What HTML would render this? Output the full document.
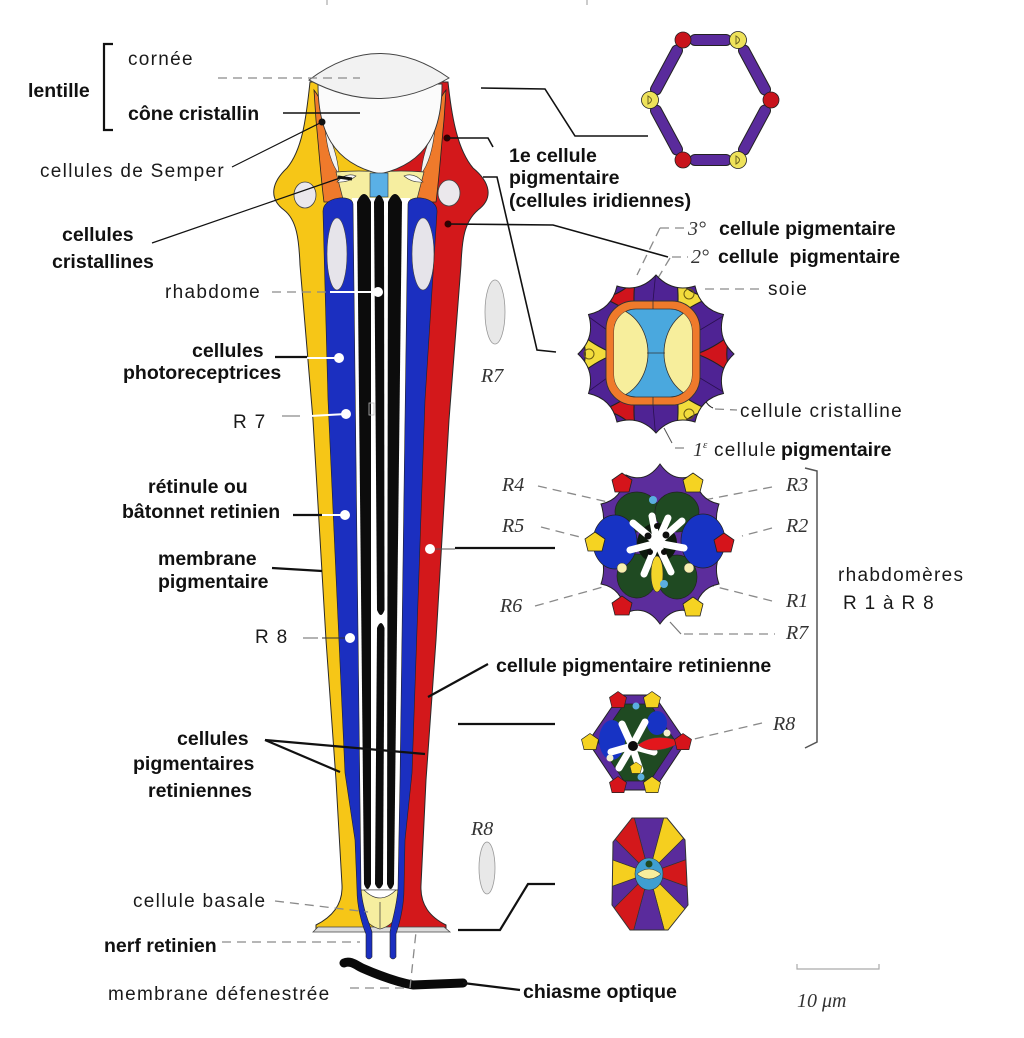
<!DOCTYPE html>
<html><head><meta charset="utf-8">
<style>
html,body{margin:0;padding:0;background:#fff;}
svg{display:block;}
.r{font-family:"Liberation Sans",Arial,sans-serif;font-size:19px;letter-spacing:1.3px;fill:#1a1a1a;}
.b{font-family:"Liberation Sans",Arial,sans-serif;font-size:19.5px;font-weight:bold;fill:#111;}
.i{font-family:"Liberation Serif","Times New Roman",serif;font-size:20px;font-style:italic;fill:#333;}
.d{stroke:#8a8a8a;stroke-width:1.3;stroke-dasharray:9 6;fill:none;}
.k{stroke:#111;stroke-width:1.6;fill:none;}
.kk{stroke:#111;stroke-width:2.2;fill:none;}
.w{stroke:#fff;stroke-width:2;fill:none;}
.ol{stroke:#222;stroke-width:0.8;}
</style></head><body>
<svg width="1024" height="1038" viewBox="0 0 1024 1038" xmlns="http://www.w3.org/2000/svg">
<defs>
<path id="tri" d="M0,-16 Q4,-4 14,9 Q0,4 -14,9 Q-4,-4 0,-16 Z"/>
<path id="pent" d="M0,-10 L10,-3 L7,9 L-7,9 L-10,-3 Z"/>
<path id="star2" d="M656,275 Q672.2,293 695,286 Q700.1,309.3 723.5,314.5 Q716.3,337.6 734,354 Q716.3,370.4 723.5,393.5 Q700.1,398.7 695,422 Q672.2,415 656,433 Q639.8,415 617,422 Q611.9,398.7 588.5,393.5 Q595.7,370.4 578,354 Q595.7,337.6 588.5,314.5 Q611.9,309.3 617,286 Q639.8,293 656,275 Z"/>
<clipPath id="star2clip"><use href="#star2"/></clipPath>
<clipPath id="cs2in"><rect x="614" y="309" width="78" height="88" rx="22"/></clipPath>
<clipPath id="cs5clip"><polygon points="632,818 667,818 685,840 688,905 668,930 630,930 612,905 613,842"/></clipPath>
</defs>
<rect width="1024" height="1038" fill="#fff"/>

<line x1="327" y1="0" x2="327" y2="5" stroke="#999" stroke-width="1"/>
<line x1="587" y1="0" x2="587" y2="5" stroke="#999" stroke-width="1"/>

<!-- ============ MAIN OMMATIDIUM ============ -->
<path d="M310,82 C306,120 302,150 287,168 C272,182 268,198 284,210 C297,220 299,240 300,265 L313,420 L326,640 L336,780 L342,885 C343,905 332,917 316,925 L316,930 L382,930 L382,82 Z" fill="#f6c617" stroke="#2a2a2a" stroke-width="1"/>
<path d="M448,82 C452,120 458,150 473,168 C490,182 494,198 478,210 C464,222 462,240 461,265 L449,420 L436,640 L426,780 L421,885 C420,905 430,917 446,925 L446,930 L380,930 L380,82 Z" fill="#d3181b" stroke="#2a2a2a" stroke-width="1"/>
<path d="M313,932 L318,927 L444,927 L450,932 Z" fill="#dcdcdc" stroke="#444" stroke-width="0.8"/>
<path d="M314,90 C322,100 327,115 329,140 C333,165 342,182 353,194 L350,202 L324,202 C321,180 319,150 316,120 Z" fill="#ef7a2b" class="ol"/>
<path d="M446,90 C438,100 433,115 431,140 C427,165 418,182 407,194 L410,202 L436,202 C439,180 441,150 444,120 Z" fill="#ef7a2b" class="ol"/>
<path d="M325,128 Q337,150 339,174 Q328,160 325,128 Z" fill="#f4f4f4" stroke="#333" stroke-width="0.6"/>
<path d="M435,128 Q423,150 421,174 Q432,160 435,128 Z" fill="#f4f4f4" stroke="#333" stroke-width="0.6"/>
<path d="M336,172 Q360,170 380,172 Q400,170 424,172 L416,203 L344,203 Z" fill="#f6eea0" stroke="#333" stroke-width="0.7"/>
<path d="M337,182 Q346,172 356,176 Q348,183 337,182 Z" fill="#fafafa" stroke="#333" stroke-width="0.6"/>
<path d="M423,182 Q414,172 404,176 Q412,183 423,182 Z" fill="#fafafa" stroke="#333" stroke-width="0.6"/>
<path d="M318,84 L442,84 C442,130 428,163 380,174 C332,163 318,130 318,84 Z" fill="#fbfbfb" stroke="#333" stroke-width="0.9"/>
<rect x="370" y="173" width="18" height="24" fill="#5ab0e6" stroke="#333" stroke-width="0.6"/>
<path d="M309,80 Q378,28 449,78 Q380,118 309,80 Z" fill="#f2f2f2" stroke="#444" stroke-width="1"/>

<path d="M352,198 L410,198 L399,892 L361,892 Z" fill="#fff"/>
<path d="M357,202 Q364,186 371,202 L371,884 Q367.5,894 364,884 Z" fill="#0c0c0c"/>
<path d="M374,202 Q379,188 384,202 L384.5,610 Q381,620 377,610 Z" fill="#0c0c0c"/>
<path d="M377,628 Q381,618 384.5,628 L383,884 Q379,893 375,884 Z" fill="#0c0c0c"/>
<path d="M388,202 Q395,186 402,202 L394,884 Q390.5,894 387,884 Z" fill="#0c0c0c"/>
<path d="M361,890 L399,890 C402,910 396,925 380,929 C364,925 358,910 361,890 Z" fill="#f6eea0" stroke="#333" stroke-width="0.7"/>
<path d="M364,890 Q380,906 396,890 Z" fill="#fff" stroke="#333" stroke-width="0.6"/>
<line x1="380" y1="902" x2="380" y2="928" stroke="#333" stroke-width="0.7"/>
<path d="M323,212 C322,196 353,194 353,204 L361,888 C362,906 368,920 372,932 L372,957 Q369,961 366,957 L366,934 C361,922 357,905 357,890 L355,840 L345,773 L328,400 Z" fill="#1b2fc0" stroke="#222" stroke-width="0.6"/>
<path d="M437,212 C438,196 408,194 408,204 L400,780 L398,888 C397,906 392,920 390,932 L390,957 Q393,961 396,957 L396,934 C400,922 404,905 404,888 L405,840 L412,773 L425,400 Z" fill="#1b2fc0" stroke="#222" stroke-width="0.6"/>
<ellipse cx="305" cy="195" rx="11" ry="13" fill="#ebe8ec" stroke="#444" stroke-width="0.8"/>
<ellipse cx="449" cy="193" rx="11" ry="13" fill="#ebe8ec" stroke="#444" stroke-width="0.8"/>
<ellipse cx="337" cy="254" rx="10" ry="36" fill="#e6e4ea" stroke="#444" stroke-width="0.6"/>
<ellipse cx="423" cy="254" rx="11" ry="36" fill="#e6e4ea" stroke="#444" stroke-width="0.6"/>
<rect x="369" y="403" width="5" height="12" fill="none" stroke="#bbb" stroke-width="0.8"/>

<ellipse cx="495" cy="312" rx="10" ry="32" fill="#e8e8e8" stroke="#999" stroke-width="0.8"/>
<ellipse cx="487" cy="868" rx="8" ry="26" fill="#e8e8e8" stroke="#999" stroke-width="0.8"/>

<path d="M344,963 C350,960 356,965 362,968 C378,975 396,982 413,985 L463,983" stroke="#0a0a0a" stroke-width="9" fill="none" stroke-linecap="round" stroke-linejoin="round"/>
<line x1="463" y1="983" x2="520" y2="990" class="kk"/>

<!-- ============ LEADER LINES LEFT ============ -->
<path d="M113,44 L104,44 L104,130 L113,130" class="kk"/>
<line x1="218" y1="78" x2="360" y2="78" class="d"/>
<line x1="283" y1="113" x2="360" y2="113" class="k"/>
<line x1="232" y1="167" x2="322" y2="122" stroke="#111" stroke-width="1.2"/>
<circle cx="322" cy="122" r="3.5" fill="#111"/>
<line x1="152" y1="243" x2="340" y2="178" stroke="#111" stroke-width="1.2"/>
<line x1="338" y1="177" x2="352" y2="179" stroke="#111" stroke-width="3"/>
<line x1="272" y1="292" x2="330" y2="292" class="d"/>
<line x1="330" y1="292" x2="378" y2="292" class="w"/>
<circle cx="378" cy="292" r="5" fill="#fff"/>
<line x1="275" y1="357" x2="307" y2="357" class="kk"/>
<line x1="307" y1="358" x2="339" y2="358" class="w"/>
<circle cx="339" cy="358" r="5" fill="#fff"/>
<line x1="282" y1="416" x2="300" y2="416" stroke="#8a8a8a" stroke-width="1.3"/>
<line x1="310" y1="416" x2="346" y2="414" class="w"/>
<circle cx="346" cy="414" r="5" fill="#fff"/>
<line x1="293" y1="515" x2="322" y2="515" class="kk"/>
<line x1="322" y1="515" x2="345" y2="515" class="w"/>
<circle cx="345" cy="515" r="5" fill="#fff"/>
<line x1="272" y1="568" x2="322" y2="571" class="kk"/>
<line x1="303" y1="638" x2="318" y2="638" stroke="#8a8a8a" stroke-width="1.3"/>
<line x1="322" y1="638" x2="350" y2="638" stroke="#333" stroke-width="1"/>
<circle cx="350" cy="638" r="5" fill="#fff"/>
<line x1="265" y1="740" x2="340" y2="772" class="kk"/>
<line x1="265" y1="740" x2="425" y2="754" class="kk"/>
<line x1="275" y1="901" x2="368" y2="912" class="d"/>
<line x1="222" y1="942" x2="360" y2="942" class="d"/>
<line x1="350" y1="988" x2="410" y2="988" class="d"/>
<line x1="410" y1="988" x2="416" y2="932" class="d"/>

<!-- ============ LEADER LINES RIGHT ============ -->
<polyline points="481,88 545,89 575,136 648,136" class="k"/>
<circle cx="447" cy="138" r="3.5" fill="#300"/>
<polyline points="447,138 488,138 493,147" class="k"/>
<polyline points="483,177 497,177 537,350 556,352" class="k"/>
<circle cx="448" cy="224" r="3.5" fill="#300"/>
<polyline points="448,224 553,225 668,257" class="k"/>
<line x1="660" y1="228" x2="686" y2="228" class="d"/>
<line x1="660" y1="228" x2="637" y2="275" class="d"/>
<line x1="672" y1="257" x2="688" y2="257" class="d"/>
<line x1="670" y1="258" x2="655" y2="283" class="d"/>
<line x1="705" y1="289" x2="762" y2="289" class="d"/>
<path d="M675,357 L705,400 Q708,406 713,408" stroke="#222" stroke-width="1" fill="none"/>
<line x1="715" y1="409" x2="737" y2="410" class="d"/>
<line x1="664" y1="428" x2="672" y2="443" stroke="#555" stroke-width="1"/>
<line x1="675" y1="448" x2="690" y2="448" class="d"/>
<line x1="538" y1="486" x2="608" y2="502" class="d"/>
<line x1="541" y1="527" x2="580" y2="537" class="d"/>
<line x1="535" y1="606" x2="610" y2="585" class="d"/>
<line x1="772" y1="487" x2="704" y2="500" class="d"/>
<line x1="772" y1="528" x2="742" y2="536" class="d"/>
<line x1="772" y1="601" x2="705" y2="584" class="d"/>
<line x1="670" y1="622" x2="681" y2="634" stroke="#777" stroke-width="1.2"/>
<line x1="684" y1="634" x2="775" y2="634" class="d"/>
<line x1="762" y1="723" x2="690" y2="740" class="d"/>
<line x1="488" y1="664" x2="428" y2="697" class="kk"/>
<line x1="430" y1="549" x2="455" y2="549" stroke="#555" stroke-width="1"/>
<line x1="455" y1="548" x2="555" y2="548" class="kk"/>
<circle cx="430" cy="549" r="5" fill="#fff"/>
<line x1="458" y1="724" x2="555" y2="724" class="kk"/>
<polyline points="458,930 500,930 528,884 555,884" class="kk"/>
<path d="M805,468 L817,471 L817,742 L805,748" stroke="#555" stroke-width="1.5" fill="none"/>
<path d="M797,964 L797,969 L879,969 L879,964" stroke="#aaa" stroke-width="1.2" fill="none"/>

<!-- ============ CS1 hexagon ============ -->
<g stroke-linecap="round">
<g stroke="#222" stroke-width="12">
<line x1="695" y1="40" x2="726" y2="40"/>
<line x1="744" y1="50.5" x2="765" y2="89.5"/>
<line x1="765" y1="110.5" x2="744" y2="149.5"/>
<line x1="726" y1="160" x2="695" y2="160"/>
<line x1="677" y1="149.5" x2="656" y2="110.5"/>
<line x1="656" y1="89.5" x2="677" y2="50.5"/>
</g>
<g stroke="#5a2b9c" stroke-width="10">
<line x1="695" y1="40" x2="726" y2="40"/>
<line x1="744" y1="50.5" x2="765" y2="89.5"/>
<line x1="765" y1="110.5" x2="744" y2="149.5"/>
<line x1="726" y1="160" x2="695" y2="160"/>
<line x1="677" y1="149.5" x2="656" y2="110.5"/>
<line x1="656" y1="89.5" x2="677" y2="50.5"/>
</g>
</g>
<g stroke="#222" stroke-width="0.8">
<circle cx="683" cy="40" r="8" fill="#c8141c"/>
<circle cx="771" cy="100" r="8" fill="#c8141c"/>
<circle cx="683" cy="160" r="8" fill="#c8141c"/>
<circle cx="738" cy="40" r="8.5" fill="#eee25a"/>
<circle cx="650" cy="100" r="8.5" fill="#eee25a"/>
<circle cx="738" cy="160" r="8.5" fill="#eee25a"/>
</g>
<g fill="none" stroke="#6a6020" stroke-width="1">
<path d="M736,36 Q743,40 736,44 Z"/>
<path d="M648,96 Q655,100 648,104 Z"/>
<path d="M736,156 Q743,160 736,164 Z"/>
</g>

<!-- ============ CS2 cone level ============ -->
<use href="#star2" fill="#4f2394"/>
<g clip-path="url(#star2clip)">
<g stroke="#2a1050" stroke-width="0.8">
<line x1="653" y1="301" x2="656" y2="270"/>
<line x1="653" y1="405" x2="656" y2="440"/>
<line x1="700" y1="330" x2="730" y2="312"/>
<line x1="700" y1="378" x2="730" y2="396"/>
<line x1="607" y1="330" x2="582" y2="312"/>
<line x1="607" y1="378" x2="582" y2="396"/>
</g>
<g stroke="#222" stroke-width="0.8">
<use href="#tri" transform="translate(625,299) rotate(150) scale(1.35)" fill="#d0141c"/>
<use href="#tri" transform="translate(687,299) rotate(210) scale(1.35)" fill="#f2dc3c"/>
<use href="#tri" transform="translate(718,354) rotate(270) scale(1.35)" fill="#d0141c"/>
<use href="#tri" transform="translate(687,409) rotate(330) scale(1.35)" fill="#f2dc3c"/>
<use href="#tri" transform="translate(625,409) rotate(30) scale(1.35)" fill="#d0141c"/>
<use href="#tri" transform="translate(594,354) rotate(90) scale(1.35)" fill="#f2dc3c"/>
</g>
</g>
<use href="#star2" fill="none" stroke="#222" stroke-width="1"/>
<g fill="none" stroke="#6a5a10" stroke-width="1">
<circle cx="689" cy="294" r="5"/>
<circle cx="689" cy="414" r="5"/>
<circle cx="589" cy="354" r="5"/>
</g>
<rect x="606" y="301" width="94" height="104" rx="28" fill="#ef7a2b" stroke="#333" stroke-width="0.9"/>
<rect x="614" y="309" width="78" height="88" rx="22" fill="#4aa8de" stroke="#333" stroke-width="0.8"/>
<g clip-path="url(#cs2in)">
<ellipse cx="609" cy="353" rx="39" ry="46" fill="#f7ee9c" stroke="#333" stroke-width="0.8"/>
<ellipse cx="703" cy="353" rx="39" ry="46" fill="#f7ee9c" stroke="#333" stroke-width="0.8"/>
</g>
<g stroke="#333" stroke-width="0.8">
<line x1="647" y1="353" x2="665" y2="353"/>
<line x1="653" y1="301" x2="653" y2="309"/>
<line x1="653" y1="397" x2="653" y2="405"/>
</g>

<!-- ============ CS3 rhabdomere level ============ -->
<path d="M660,464 Q674,484 694,475 Q698,500 719,504 Q711,528 728,544 Q711,560 719,584 Q698,588 694,613 Q674,604 660,624 Q646,604 626,613 Q622,588 601,584 Q609,560 592,544 Q609,528 601,504 Q622,500 626,475 Q646,484 660,464 Z" fill="#5c2d9c" stroke="#222" stroke-width="1"/>
<g stroke="#222" stroke-width="0.7">
<ellipse cx="637" cy="512" rx="22" ry="20" fill="#1f4a22"/>
<ellipse cx="677" cy="512" rx="22" ry="20" fill="#1f4a22"/>
<ellipse cx="637" cy="576" rx="20" ry="22" fill="#1f4a22"/>
<ellipse cx="677" cy="577" rx="20" ry="22" fill="#1f4a22"/>
<ellipse cx="615" cy="542" rx="22" ry="27" fill="#1733c4"/>
<ellipse cx="703" cy="541" rx="22" ry="27" fill="#1733c4"/>
</g>
<circle cx="657" cy="543" r="20" fill="#0d1a0d"/>
<g stroke="#fff" stroke-width="7" stroke-linecap="round" fill="none">
<line x1="657" y1="543" x2="633" y2="523"/>
<line x1="657" y1="543" x2="652" y2="516"/>
<line x1="657" y1="543" x2="668" y2="518"/>
<line x1="657" y1="543" x2="682" y2="521"/>
<line x1="657" y1="543" x2="630" y2="550"/>
<line x1="657" y1="543" x2="684" y2="548"/>
<line x1="657" y1="543" x2="644" y2="574"/>
<line x1="657" y1="543" x2="671" y2="572"/>
</g>
<g fill="#0d0d0d">
<circle cx="648" cy="536" r="3.5"/>
<circle cx="666" cy="535" r="3.5"/>
<circle cx="657" cy="526" r="3"/>
<circle cx="650" cy="552" r="3"/>
<circle cx="664" cy="552" r="3"/>
</g>
<ellipse cx="657" cy="574" rx="6" ry="18" fill="#f3d52a" stroke="#333" stroke-width="0.6"/>
<circle cx="653" cy="500" r="4" fill="#5aaee0"/>
<circle cx="664" cy="584" r="4" fill="#5aaee0"/>
<circle cx="622" cy="568" r="5" fill="#f8f0b0" stroke="#333" stroke-width="0.5"/>
<circle cx="689" cy="568" r="5" fill="#f8f0b0" stroke="#333" stroke-width="0.5"/>
<g stroke="#222" stroke-width="0.8" stroke-linejoin="round">
<use href="#pent" transform="translate(622,483)" fill="#d5141b"/>
<use href="#pent" transform="translate(693,483)" fill="#f5d322"/>
<use href="#pent" transform="translate(595,542)" fill="#f5d322"/>
<use href="#pent" transform="translate(724,543)" fill="#d5141b"/>
<use href="#pent" transform="translate(622,606)" fill="#d5141b"/>
<use href="#pent" transform="translate(693,607)" fill="#f5d322"/>
</g>

<!-- ============ CS4 R8 level ============ -->
<polygon points="620,695 654,695 686,742 654,790 620,790 588,742" fill="#5a2b9c" stroke="#222" stroke-width="1" stroke-linejoin="round"/>
<polygon points="624,704 650,704 676,742 650,781 624,781 598,742" fill="#1f4a22" stroke="#222" stroke-width="0.7"/>
<ellipse cx="612" cy="740" rx="13" ry="20" fill="#1733c4"/>
<ellipse cx="657" cy="723" rx="10" ry="12" fill="#1733c4"/>
<g stroke="#fff" stroke-width="7" stroke-linecap="round" fill="none">
<line x1="632" y1="746" x2="622" y2="724"/>
<line x1="632" y1="746" x2="645" y2="722"/>
<line x1="632" y1="746" x2="611" y2="752"/>
<line x1="632" y1="746" x2="619" y2="768"/>
<line x1="632" y1="746" x2="640" y2="770"/>
<line x1="632" y1="746" x2="654" y2="752"/>
</g>
<circle cx="633" cy="746" r="5" fill="#0d0d0d"/>
<path d="M638,745 C650,735 668,736 681,742 C668,750 650,754 638,745 Z" fill="#e2161c" stroke="#444" stroke-width="0.5"/>
<circle cx="636" cy="706" r="3.5" fill="#5aaee0"/>
<circle cx="641" cy="777" r="3.5" fill="#5aaee0"/>
<circle cx="610" cy="758" r="3.5" fill="#f4f0d0"/>
<circle cx="667" cy="733" r="3.5" fill="#f4f0d0"/>
<g stroke="#222" stroke-width="0.8" stroke-linejoin="round">
<use href="#pent" transform="translate(618,700) scale(0.85)" fill="#d5141b"/>
<use href="#pent" transform="translate(652,700) scale(0.85)" fill="#f5d322"/>
<use href="#pent" transform="translate(590,742) scale(0.85)" fill="#f5d322"/>
<use href="#pent" transform="translate(683,742) scale(0.85)" fill="#d5141b"/>
<use href="#pent" transform="translate(618,785) scale(0.85)" fill="#d5141b"/>
<use href="#pent" transform="translate(652,785) scale(0.85)" fill="#f5d322"/>
<use href="#pent" transform="translate(636,768) scale(0.6)" fill="#f5d322"/>
</g>

<!-- ============ CS5 bottom ============ -->
<g clip-path="url(#cs5clip)" stroke="#333" stroke-width="0.7">
<polygon points="649,873 623,776 675,776" fill="#5a2b9c"/>
<polygon points="649,873 675,776 720,802" fill="#f5cf1f"/>
<polygon points="649,873 720,802 743,839" fill="#5a2b9c"/>
<polygon points="649,873 743,839 743,907" fill="#d3181b"/>
<polygon points="649,873 743,907 720,944" fill="#5a2b9c"/>
<polygon points="649,873 720,944 675,970" fill="#f5cf1f"/>
<polygon points="649,873 675,970 623,970" fill="#5a2b9c"/>
<polygon points="649,873 623,970 578,944" fill="#d3181b"/>
<polygon points="649,873 578,944 555,907" fill="#5a2b9c"/>
<polygon points="649,873 555,907 555,839" fill="#f5cf1f"/>
<polygon points="649,873 555,839 578,802" fill="#5a2b9c"/>
<polygon points="649,873 578,802 623,776" fill="#d3181b"/>
</g>
<polygon points="632,818 667,818 685,840 688,905 668,930 630,930 612,905 613,842" fill="none" stroke="#333" stroke-width="1"/>
<ellipse cx="649" cy="874" rx="14" ry="16" fill="#3f9fd0" stroke="#333" stroke-width="0.6"/>
<path d="M637,874 Q649,864 661,874 Q649,884 637,874 Z" fill="#f7ee9c" stroke="#333" stroke-width="0.5"/>
<circle cx="649" cy="864" r="3.5" fill="#1f4a22"/>

<!-- ============ TEXT LEFT ============ -->
<text x="128" y="65" class="r">cornée</text>
<text x="28" y="97" class="b">lentille</text>
<text x="128" y="120" class="b">cône cristallin</text>
<text x="40" y="177" class="r">cellules de Semper</text>
<text x="62" y="241" class="b">cellules</text>
<text x="52" y="268" class="b">cristallines</text>
<text x="165" y="298" class="r">rhabdome</text>
<text x="192" y="357" class="b">cellules</text>
<text x="123" y="379" class="b">photoreceptrices</text>
<text x="233" y="428" class="r">R 7</text>
<text x="148" y="493" class="b">rétinule ou</text>
<text x="122" y="518" class="b">bâtonnet retinien</text>
<text x="158" y="565" class="b">membrane</text>
<text x="158" y="588" class="b">pigmentaire</text>
<text x="255" y="643" class="r">R 8</text>
<text x="177" y="745" class="b">cellules</text>
<text x="133" y="770" class="b">pigmentaires</text>
<text x="148" y="797" class="b">retiniennes</text>
<text x="133" y="907" class="r">cellule basale</text>
<text x="104" y="952" class="b">nerf retinien</text>
<text x="108" y="1000" class="r">membrane défenestrée</text>
<text x="523" y="998" class="b">chiasme optique</text>

<!-- ============ TEXT RIGHT ============ -->
<text x="509" y="162" class="b">1e cellule</text>
<text x="509" y="184" class="b">pigmentaire</text>
<text x="509" y="207" class="b">(cellules iridiennes)</text>
<text x="688" y="235" class="i">3°</text>
<text x="719" y="235" class="b">cellule pigmentaire</text>
<text x="691" y="263" class="i">2°</text>
<text x="718" y="263" class="b">cellule&#160; pigmentaire</text>
<text x="768" y="295" class="r">soie</text>
<text x="740" y="417" class="r">cellule cristalline</text>
<text x="693" y="456" class="i">1<tspan font-size="11" dy="-8">ε</tspan></text>
<text x="714" y="456" class="r">cellule</text>
<text x="781" y="456" class="b">pigmentaire</text>
<text x="481" y="382" class="i">R7</text>
<text x="471" y="835" class="i">R8</text>
<text x="502" y="491" class="i">R4</text>
<text x="502" y="532" class="i">R5</text>
<text x="500" y="612" class="i">R6</text>
<text x="786" y="491" class="i">R3</text>
<text x="786" y="532" class="i">R2</text>
<text x="786" y="607" class="i">R1</text>
<text x="786" y="639" class="i">R7</text>
<text x="773" y="730" class="i">R8</text>
<text x="838" y="581" class="r">rhabdomères</text>
<text x="843" y="609" class="r">R 1 à R 8</text>
<text x="496" y="672" class="b">cellule pigmentaire retinienne</text>
<text x="797" y="1007" class="i">10 μm</text>
</svg>
</body></html>
